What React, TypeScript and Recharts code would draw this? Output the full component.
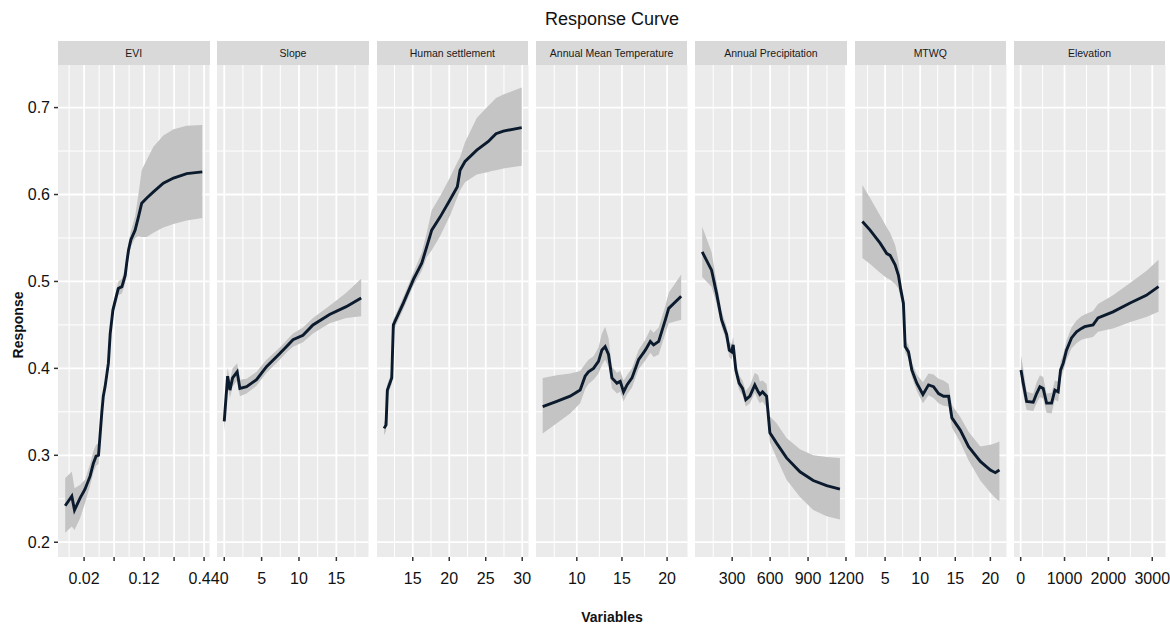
import React from 'react';
import { ComposedChart, Area, Line, XAxis, YAxis, CartesianGrid } from 'recharts';

// each row: [x, response, lower, upper]
// EVI x is in tick-position units (1 = 0.02, 3 = 0.12, 5 = 0.44)
const evi = [
  [0.37, 0.242, 0.211, 0.274], [0.59, 0.253, 0.218, 0.281], [0.68, 0.237, 0.214, 0.262],
  [0.87, 0.251, 0.228, 0.266], [1.03, 0.261, 0.245, 0.272], [1.2, 0.276, 0.265, 0.29],
  [1.31, 0.291, 0.28, 0.305], [1.4, 0.299, 0.288, 0.312], [1.48, 0.3, 0.29, 0.314],
  [1.53, 0.322, 0.314, 0.33], [1.59, 0.349, 0.342, 0.356], [1.64, 0.368, 0.362, 0.374],
  [1.7, 0.379, 0.373, 0.385], [1.81, 0.406, 0.4, 0.412], [1.87, 0.44, 0.434, 0.446],
  [1.96, 0.467, 0.461, 0.473], [2.14, 0.492, 0.484, 0.5], [2.26, 0.494, 0.486, 0.503],
  [2.37, 0.507, 0.498, 0.516], [2.42, 0.521, 0.512, 0.53], [2.48, 0.536, 0.527, 0.545],
  [2.56, 0.548, 0.54, 0.558], [2.7, 0.559, 0.55, 0.575], [2.81, 0.574, 0.552, 0.6],
  [2.92, 0.59, 0.551, 0.628], [3.09, 0.596, 0.551, 0.64], [3.31, 0.603, 0.556, 0.655],
  [3.64, 0.613, 0.562, 0.668], [3.98, 0.619, 0.566, 0.675], [4.42, 0.624, 0.57, 0.679],
  [4.94, 0.626, 0.573, 0.68],
];

const slope = [
  [0, 0.339, 0.327, 0.352], [0.45, 0.391, 0.38, 0.401], [0.76, 0.375, 0.366, 0.386],
  [1.12, 0.389, 0.379, 0.4], [1.73, 0.396, 0.386, 0.406], [2.09, 0.377, 0.368, 0.387],
  [2.99, 0.379, 0.371, 0.388], [4.32, 0.387, 0.38, 0.396], [5.65, 0.402, 0.395, 0.41],
  [7.43, 0.417, 0.41, 0.424], [8.53, 0.427, 0.42, 0.434], [9.2, 0.433, 0.425, 0.44],
  [10.53, 0.438, 0.43, 0.447], [11.87, 0.45, 0.44, 0.458], [14.09, 0.462, 0.452, 0.472],
  [16.32, 0.471, 0.458, 0.487], [18.32, 0.481, 0.46, 0.503],
];

const settlement = [
  [11.07, 0.331, 0.323, 0.338], [11.34, 0.335, 0.328, 0.342], [11.52, 0.375, 0.368, 0.382],
  [12.12, 0.389, 0.382, 0.396], [12.34, 0.45, 0.443, 0.456], [13.71, 0.475, 0.468, 0.482],
  [15.08, 0.502, 0.495, 0.51], [16.23, 0.521, 0.512, 0.533], [16.92, 0.54, 0.528, 0.556],
  [17.6, 0.559, 0.536, 0.582], [18.74, 0.574, 0.552, 0.598], [20.11, 0.594, 0.576, 0.62],
  [21.11, 0.609, 0.597, 0.637], [21.48, 0.628, 0.605, 0.643], [22.16, 0.638, 0.614, 0.66],
  [23.77, 0.651, 0.623, 0.688], [25.36, 0.661, 0.626, 0.702], [25.82, 0.665, 0.627, 0.706],
  [26.41, 0.67, 0.628, 0.711], [27.41, 0.673, 0.63, 0.715], [29.93, 0.677, 0.633, 0.723],
];

const meanTemp = [
  [6.22, 0.356, 0.325, 0.389], [7.78, 0.362, 0.337, 0.392], [9.26, 0.368, 0.348, 0.394],
  [10.37, 0.375, 0.36, 0.397], [10.92, 0.391, 0.376, 0.405], [11.29, 0.396, 0.382, 0.41],
  [11.85, 0.4, 0.387, 0.414], [12.4, 0.408, 0.394, 0.424], [12.78, 0.421, 0.404, 0.44],
  [13.14, 0.425, 0.41, 0.448], [13.51, 0.416, 0.402, 0.435], [13.89, 0.389, 0.377, 0.402],
  [14.44, 0.383, 0.371, 0.395], [14.81, 0.385, 0.373, 0.397], [15.18, 0.373, 0.362, 0.386],
  [15.56, 0.381, 0.37, 0.392], [16.11, 0.389, 0.378, 0.4], [16.84, 0.41, 0.399, 0.421],
  [17.59, 0.421, 0.409, 0.433], [18.14, 0.431, 0.418, 0.445], [18.51, 0.427, 0.413, 0.441],
  [19.07, 0.431, 0.416, 0.447], [19.81, 0.456, 0.44, 0.472], [20.18, 0.469, 0.452, 0.487],
  [21.56, 0.483, 0.456, 0.508],
];

const precipitation = [
  [63, 0.534, 0.505, 0.563], [137, 0.513, 0.494, 0.534], [177, 0.486, 0.474, 0.499],
  [216, 0.456, 0.448, 0.466], [256, 0.439, 0.431, 0.448], [277, 0.421, 0.413, 0.43],
  [295, 0.419, 0.41, 0.428], [308, 0.427, 0.418, 0.436], [329, 0.398, 0.39, 0.407],
  [355, 0.383, 0.375, 0.392], [382, 0.377, 0.369, 0.386], [408, 0.364, 0.356, 0.374],
  [440, 0.368, 0.36, 0.38], [479, 0.381, 0.372, 0.395], [506, 0.373, 0.363, 0.392],
  [519, 0.37, 0.36, 0.385], [540, 0.373, 0.362, 0.386], [572, 0.368, 0.355, 0.382],
  [598, 0.326, 0.315, 0.345], [651, 0.314, 0.297, 0.337], [730, 0.297, 0.272, 0.32],
  [836, 0.281, 0.252, 0.307], [941, 0.271, 0.237, 0.3], [1047, 0.265, 0.23, 0.298],
  [1152, 0.261, 0.226, 0.297],
];

const mtwq = [
  [1.76, 0.569, 0.527, 0.611], [2.86, 0.559, 0.52, 0.596], [4.29, 0.544, 0.51, 0.576],
  [5.24, 0.532, 0.504, 0.562], [5.71, 0.53, 0.502, 0.556], [6.43, 0.519, 0.497, 0.542],
  [6.9, 0.507, 0.492, 0.524], [7.24, 0.49, 0.48, 0.502], [7.61, 0.475, 0.466, 0.484],
  [7.86, 0.425, 0.418, 0.432], [8.33, 0.419, 0.411, 0.427], [8.81, 0.398, 0.39, 0.407],
  [9.52, 0.383, 0.374, 0.393], [10.39, 0.37, 0.36, 0.384], [11.19, 0.381, 0.369, 0.394],
  [11.9, 0.379, 0.366, 0.393], [12.62, 0.371, 0.36, 0.388], [13.33, 0.368, 0.357, 0.386],
  [14.05, 0.368, 0.356, 0.382], [14.52, 0.343, 0.332, 0.358], [15.71, 0.329, 0.315, 0.344],
  [16.9, 0.31, 0.294, 0.327], [18.57, 0.293, 0.271, 0.31], [20, 0.283, 0.257, 0.312],
  [20.71, 0.28, 0.251, 0.314], [21.29, 0.283, 0.247, 0.316],
];

const elevation = [
  [7, 0.398, 0.384, 0.415], [59, 0.383, 0.37, 0.4], [136, 0.362, 0.352, 0.373],
  [286, 0.361, 0.351, 0.371], [364, 0.371, 0.36, 0.384], [439, 0.379, 0.367, 0.392],
  [514, 0.377, 0.365, 0.39], [591, 0.36, 0.349, 0.371], [705, 0.36, 0.348, 0.372],
  [780, 0.375, 0.364, 0.386], [855, 0.373, 0.362, 0.385], [909, 0.398, 0.388, 0.408],
  [970, 0.406, 0.396, 0.416], [1045, 0.421, 0.41, 0.432], [1159, 0.435, 0.423, 0.447],
  [1273, 0.442, 0.429, 0.455], [1386, 0.446, 0.433, 0.46], [1461, 0.448, 0.434, 0.462],
  [1650, 0.45, 0.436, 0.466], [1764, 0.458, 0.442, 0.474], [2105, 0.465, 0.446, 0.484],
  [2484, 0.475, 0.453, 0.498], [2864, 0.484, 0.459, 0.512], [3143, 0.494, 0.465, 0.525],
];

const yTicks = [0.2, 0.3, 0.4, 0.5, 0.6, 0.7];
const yMinor = [0.25, 0.35, 0.45, 0.55, 0.65];
const eviTickLabels = ['0.02', '', '0.12', '', '0.44'];

const panels = [
  { title: 'EVI', rows: evi, domain: [0.13, 5.18], ticks: [1, 2, 3, 4, 5], minor: [0.5, 1.5, 2.5, 3.5, 4.5], labels: eviTickLabels },
  { title: 'Slope', rows: slope, domain: [-0.97, 19.3], ticks: [0, 5, 10, 15], minor: [2.5, 7.5, 12.5, 17.5] },
  { title: 'Human settlement', rows: settlement, domain: [10.1, 30.86], ticks: [15, 20, 25, 30], minor: [12.5, 17.5, 22.5, 27.5] },
  { title: 'Annual Mean Temperature', rows: meanTemp, domain: [5.48, 22.26], ticks: [10, 15, 20], minor: [7.5, 12.5, 17.5] },
  { title: 'Annual Precipitation', rows: precipitation, domain: [6, 1204], ticks: [300, 600, 900, 1200], minor: [150, 450, 750, 1050] },
  { title: 'MTWQ', rows: mtwq, domain: [0.71, 22.3], ticks: [5, 10, 15, 20], minor: [2.5, 7.5, 12.5, 17.5] },
  { title: 'Elevation', rows: elevation, domain: [-152, 3302], ticks: [0, 1000, 2000, 3000], minor: [500, 1500, 2500] },
];

const FONT = '"Liberation Sans", Arial, Helvetica, sans-serif';
const PANEL_X0 = 58;
const PANEL_STEP = 159.3;
const PANEL_W = 151.5;
const STRIP_TOP = 41;
const PLOT_TOP = 65;
const PLOT_H = 492;
const Y_DOMAIN = [0.183, 0.749];
const PAD = 22;
const Y_W = 58;
const CENTER_X = 612;

function Panel({ p, index }: { p: any; index: number }) {
  const first = index === 0;
  const left = PANEL_X0 + index * PANEL_STEP;
  const data = p.rows.map(([x, y, lo, hi]: number[]) => ({ x, y, band: [lo, hi] }));
  const chartLeft = first ? left - Y_W : left - PAD;
  const width = first ? Y_W + PANEL_W + PAD : PANEL_W + 2 * PAD;
  const fmt = (v: number) => {
    if (p.labels) {
      const i = p.ticks.indexOf(v);
      return i >= 0 ? p.labels[i] : '';
    }
    return String(v);
  };
  return (
    <>
      <div
        style={{
          position: 'absolute', left, top: STRIP_TOP, width: PANEL_W, height: PLOT_TOP - STRIP_TOP,
          background: '#d9d9d9', color: '#1a1a1a', fontSize: 10.5, lineHeight: `${PLOT_TOP - STRIP_TOP}px`,
          textAlign: 'center', whiteSpace: 'nowrap',
        }}
      >
        {p.title}
      </div>
      <div style={{ position: 'absolute', left: chartLeft, top: PLOT_TOP }}>
        <ComposedChart
          width={width}
          height={PLOT_H + 40}
          data={data}
          margin={{ top: 0, right: PAD, bottom: 0, left: first ? 0 : PAD }}
        >
          <CartesianGrid fill="#ebebeb" stroke="#ffffff" strokeWidth={1} horizontalValues={yMinor} verticalValues={p.minor} />
          <CartesianGrid fill="none" stroke="#ffffff" strokeWidth={1.8} horizontalValues={yTicks} verticalValues={p.ticks} />
          <XAxis
            type="number"
            dataKey="x"
            domain={p.domain}
            ticks={p.ticks}
            interval={0}
            allowDataOverflow
            height={40}
            axisLine={false}
            tickSize={4}
            tickMargin={12}
            tickLine={{ stroke: '#333333', strokeWidth: 1.5 }}
            tick={{ fontSize: 16, fill: '#111111', fontFamily: FONT }}
            tickFormatter={fmt}
          />
          <YAxis
            type="number"
            domain={Y_DOMAIN}
            ticks={yTicks}
            interval={0}
            allowDataOverflow
            hide={!first}
            width={Y_W}
            axisLine={false}
            tickSize={4}
            tickMargin={4}
            tickLine={{ stroke: '#333333', strokeWidth: 1.5 }}
            tick={{ fontSize: 16, fill: '#111111', fontFamily: FONT }}
          />
          <Area dataKey="band" type="linear" fill="#c4c4c4" fillOpacity={1} stroke="none" isAnimationActive={false} />
          <Line dataKey="y" type="linear" stroke="#0b1b2d" strokeWidth={2.9} dot={false} isAnimationActive={false} />
        </ComposedChart>
      </div>
    </>
  );
}

export default function App() {
  return (
    <div style={{ position: 'absolute', left: 0, top: 0, width: 1170, height: 625, background: '#fff', fontFamily: FONT, overflow: 'hidden' }}>
      <div style={{ position: 'absolute', left: CENTER_X, top: 9, transform: 'translateX(-50%)', fontSize: 18, color: '#111', whiteSpace: 'nowrap' }}>
        Response Curve
      </div>
      {panels.map((p, i) => (
        <Panel key={p.title} p={p} index={i} />
      ))}
      <div
        style={{
          position: 'absolute', left: 18, top: 325, transform: 'translate(-50%, -50%) rotate(-90deg)',
          fontSize: 14, fontWeight: 'bold', color: '#111', whiteSpace: 'nowrap',
        }}
      >
        Response
      </div>
      <div style={{ position: 'absolute', left: CENTER_X, top: 609, transform: 'translateX(-50%)', fontSize: 14, fontWeight: 'bold', color: '#111', whiteSpace: 'nowrap' }}>
        Variables
      </div>
    </div>
  );
}
